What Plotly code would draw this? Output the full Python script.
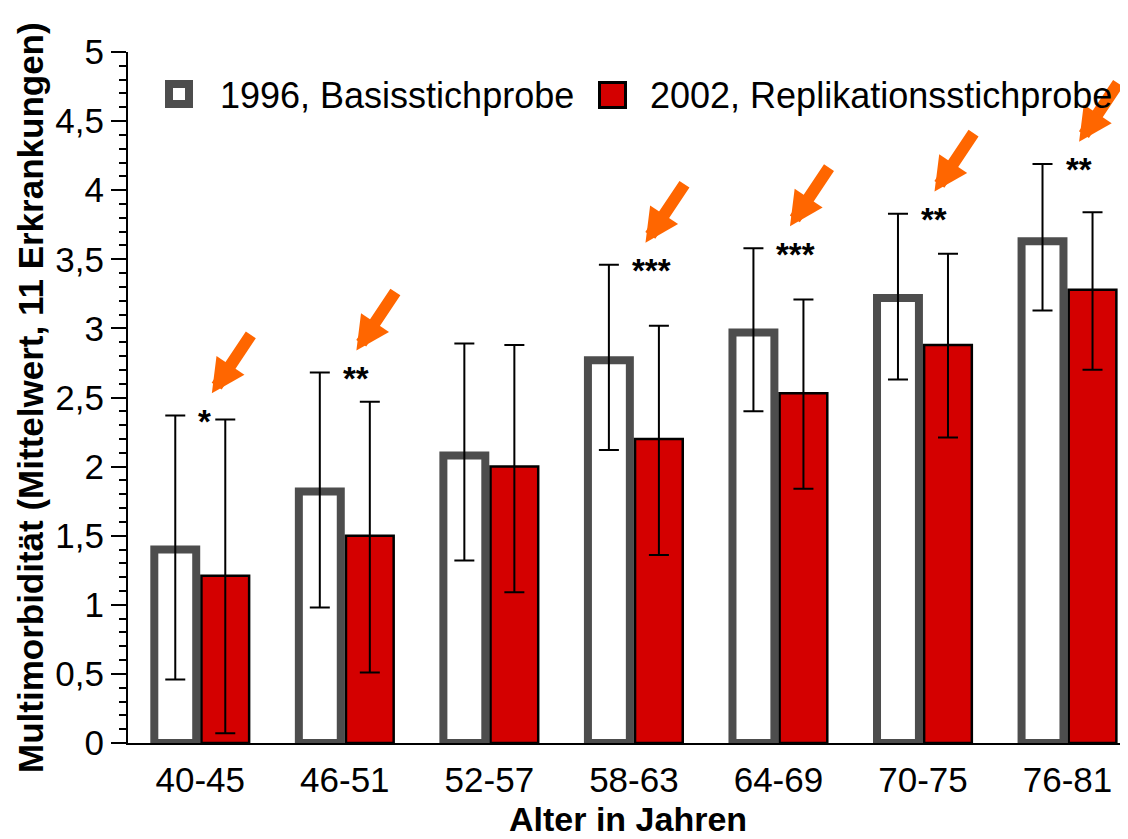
import plotly.graph_objects as go

# ---------------- data ----------------
categories = ["40-45", "46-51", "52-57", "58-63", "64-69", "70-75", "76-81"]
series_names = ["1996, Basisstichprobe", "2002, Replikationsstichprobe"]

mean_1996 = [1.40, 1.82, 2.08, 2.77, 2.97, 3.22, 3.63]
upper_1996 = [2.37, 2.68, 2.89, 3.46, 3.58, 3.83, 4.19]
lower_1996 = [0.46, 0.98, 1.32, 2.12, 2.40, 2.63, 3.13]

mean_2002 = [1.21, 1.50, 2.00, 2.20, 2.53, 2.88, 3.28]
upper_2002 = [2.34, 2.47, 2.88, 3.02, 3.21, 3.54, 3.84]
lower_2002 = [0.07, 0.51, 1.09, 1.36, 1.84, 2.21, 2.70]

significance = ["*", "**", "", "***", "***", "**", "**"]

y_tick_values = [0, 0.5, 1, 1.5, 2, 2.5, 3, 3.5, 4, 4.5, 5]
y_tick_labels = ["0", "0,5", "1", "1,5", "2", "2,5", "3", "3,5", "4", "4,5", "5"]

y_title = "Multimorbidität (Mittelwert, 11 Erkrankungen)"
x_title = "Alter in Jahren"

# ---------------- styling / layout constants ----------------
# the page body has an 8px margin, so the figure starts at (8, 8) in the window
OFF = 8
W, H = 1128 - OFF, 839 - OFF
ML, MR, MT, MB = 128 - OFF, 7, 52 - OFF, 96
PW, PH = W - ML - MR, H - MT - MB
FONT = "Arial, Liberation Sans, sans-serif"
GRAY = "#4d4d4d"
RED = "#d40000"
ORANGE = "#ff6600"


def px_x(x):
    """window pixel x -> paper coordinate"""
    return (x - OFF - ML) / PW


def px_y(y):
    """window pixel y -> paper coordinate"""
    return (H - MB - (y - OFF)) / PH


xs = list(range(len(categories)))

fig = go.Figure()

fig.add_trace(go.Bar(
    x=xs, y=mean_1996, name=series_names[0],
    width=0.29, offset=-0.318,
    marker=dict(color="white", line=dict(color=GRAY, width=8)),
    error_y=dict(type="data", symmetric=False,
                 array=[u - m for u, m in zip(upper_1996, mean_1996)],
                 arrayminus=[m - l for m, l in zip(mean_1996, lower_1996)],
                 color="black", thickness=2, width=10),
))

fig.add_trace(go.Bar(
    x=xs, y=mean_2002, name=series_names[1],
    width=0.33, offset=0.008,
    marker=dict(color=RED, line=dict(color="black", width=2.5)),
    error_y=dict(type="data", symmetric=False,
                 array=[u - m for u, m in zip(upper_2002, mean_2002)],
                 arrayminus=[m - l for m, l in zip(mean_2002, lower_2002)],
                 color="black", thickness=2, width=10),
))

annotations = []
# significance stars and orange arrows
for i, s in enumerate(significance):
    if not s:
        continue
    annotations.append(dict(
        x=i, y=upper_1996[i], xref="x", yref="y", text=s, showarrow=False,
        xanchor="left", yanchor="middle", yshift=-6, xshift=-4,
        font=dict(family=FONT, size=33, color="black", weight="bold"),
    ))
    annotations.append(dict(
        x=i + 0.08, y=upper_1996[i] + 0.16, xref="x", yref="y", text="",
        showarrow=True, arrowhead=2, arrowwidth=12, arrowsize=0.56,
        arrowcolor=ORANGE, ax=40, ay=-60, standoff=0,
    ))

# axis titles
annotations.append(dict(
    x=px_x(30), y=px_y(398), xref="paper", yref="paper", text=y_title,
    textangle=-90, showarrow=False, xanchor="center", yanchor="middle",
    font=dict(family=FONT, size=35, color="black", weight="bold"),
))
annotations.append(dict(
    x=px_x(628), y=px_y(819), xref="paper", yref="paper", text=x_title,
    showarrow=False, xanchor="center", yanchor="middle",
    font=dict(family=FONT, size=34, color="black", weight="bold"),
))

# legend texts
annotations.append(dict(
    x=px_x(218), y=px_y(96), xref="paper", yref="paper", text=series_names[0],
    showarrow=False, xanchor="left", yanchor="middle",
    font=dict(family=FONT, size=36, color="black"),
))
annotations.append(dict(
    x=px_x(648), y=px_y(96), xref="paper", yref="paper", text=series_names[1],
    showarrow=False, xanchor="left", yanchor="middle",
    font=dict(family=FONT, size=36, color="black"),
))

shapes = [
    dict(type="rect", xref="paper", yref="paper",
         x0=px_x(169), x1=px_x(189), y0=px_y(104), y1=px_y(84),
         line=dict(color=GRAY, width=8), fillcolor="white"),
    dict(type="rect", xref="paper", yref="paper",
         x0=px_x(599.5), x1=px_x(625.5), y0=px_y(107.5), y1=px_y(82.5),
         line=dict(color="black", width=3), fillcolor=RED),
]

fig.update_layout(
    width=W, height=H,
    margin=dict(l=ML, r=MR, t=MT, b=MB, pad=0),
    plot_bgcolor="white", paper_bgcolor="white",
    barmode="overlay", showlegend=False,
    font=dict(family=FONT, size=34, color="black"),
    annotations=annotations, shapes=shapes,
    xaxis=dict(
        range=[-0.5, 6.37], tickvals=xs, ticktext=categories,
        showline=True, linecolor="black", linewidth=2,
        ticks="", showgrid=False, zeroline=False,
        ticklabelstandoff=5,
        tickfont=dict(family=FONT, size=35, color="black"),
    ),
    yaxis=dict(
        range=[0, 5], tickvals=y_tick_values, ticktext=y_tick_labels,
        showline=True, linecolor="black", linewidth=2,
        ticks="outside", ticklen=15, tickwidth=1.5, tickcolor="black",
        minor=dict(tick0=0, dtick=0.1, ticks="outside", ticklen=7,
                   tickwidth=1.5, tickcolor="black", showgrid=False),
        showgrid=False, zeroline=False,
        tickfont=dict(family=FONT, size=35, color="black"),
    ),
)

fig.write_html("out.html")
